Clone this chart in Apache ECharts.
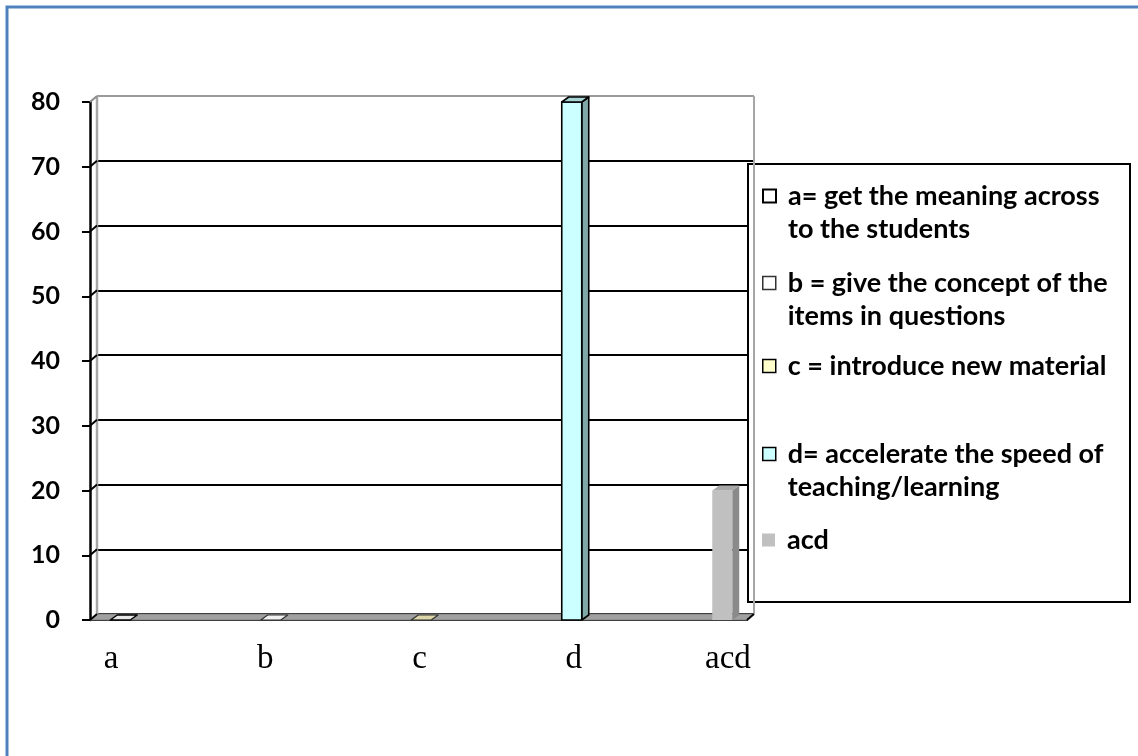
<!DOCTYPE html>
<html>
<head>
<meta charset="utf-8">
<script src="https://cdn.jsdelivr.net/npm/echarts@6/dist/echarts.min.js"></script>
<style>
  html, body { margin: 0; padding: 0; background: #ffffff; }
  #chart { width: 1138px; height: 756px; }
</style>
</head>
<body>
<div id="chart"></div>
<script>
// Categories, values and legend texts
const categories = ['a', 'b', 'c', 'd', 'acd'];
const values = [0, 0, 0, 80, 20];
const seriesNames = [
  'a= get the meaning across\nto the students',
  'b = give the concept of the\nitems in questions',
  'c = introduce new material',
  'd= accelerate the speed of\nteaching/learning',
  'acd'
];
const yTicks = [0, 10, 20, 30, 40, 50, 60, 70, 80];

// Face colours of each 3D column (front / side / top / outline)
const barStyles = [
  { front: '#ffffff', side: '#d0d0d0', top: '#e8e8e8', stroke: '#000000', lw: 1.5 },
  { front: '#ffffff', side: '#d0d0d0', top: '#f0f0f0', stroke: '#333333', lw: 1.2 },
  { front: '#ffffcc', side: '#b8b890', top: '#ddd6a8', stroke: '#333333', lw: 1.2 },
  { front: '#ccffff', side: '#80a8a8', top: '#a6d4d4', stroke: '#000000', lw: 1.6 },
  { front: '#c0c0c0', side: '#8a8a8a', top: '#a8a8a8', stroke: null, lw: 0 }
];
const legendIconStyles = [
  { color: '#ffffff', borderColor: '#000000', borderWidth: 2 },
  { color: '#ffffff', borderColor: '#333333', borderWidth: 1.5 },
  { color: '#ffffcc', borderColor: '#000000', borderWidth: 1.5 },
  { color: '#ccffff', borderColor: '#000000', borderWidth: 1.5 },
  { color: '#c0c0c0', borderWidth: 0 }
];
const legendCenters = [196, 283, 366, 454, 540];
const LEGEND_LH = 33;

// depth offset of the 3D walls and columns
const DX = 7, DY = -6;

function columnRenderer(st) {
  return function (params, api) {
    const i = api.value(0), v = api.value(1);
    const top = api.coord([i, v]);
    const base = api.coord([i, 0]);
    const hw = 10;
    const l = top[0] - hw, r = top[0] + hw;
    const lineStyle = st.stroke ? { stroke: st.stroke, lineWidth: st.lw, lineJoin: 'round' } : {};
    const children = [];
    if (base[1] - top[1] > 0.5) {
      children.push({
        type: 'polygon',
        shape: { points: [[r, top[1]], [r + DX, top[1] + DY + 1], [r + DX, base[1] + DY + 1], [r, base[1]]] },
        style: Object.assign({ fill: st.side }, lineStyle)
      });
      children.push({
        type: 'rect',
        shape: { x: l, y: top[1], width: 2 * hw, height: base[1] - top[1] },
        style: Object.assign({ fill: st.front }, lineStyle)
      });
    }
    children.push({
      type: 'polygon',
      shape: { points: [[l, top[1]], [l + DX, top[1] + DY + 1], [r + DX, top[1] + DY + 1], [r, top[1]]] },
      style: Object.assign({ fill: st.top }, lineStyle)
    });
    return { type: 'group', children };
  };
}

// walls, floor and the short links from each tick to its back grid line
function frameRenderer(params, api) {
  const cs = params.coordSys;
  const x0 = cs.x, y0 = cs.y, w = cs.width, h = cs.height;
  const yb = y0 + h;
  const children = [];
  children.push({
    type: 'polygon',
    shape: { points: [[x0, yb], [x0 + w, yb], [x0 + w + DX, yb + DY], [x0 + DX, yb + DY]] },
    style: { fill: '#a0a0a0', stroke: '#808080', lineWidth: 1 }
  });
  children.push({
    type: 'line',
    shape: { x1: x0 + DX, y1: y0 + DY, x2: x0 + DX, y2: yb + DY },
    style: { stroke: '#a6a6a6', lineWidth: 2.5 }
  });
  children.push({
    type: 'line',
    shape: { x1: x0 + w + DX, y1: y0 + DY, x2: x0 + w + DX, y2: yb + DY },
    style: { stroke: '#a6a6a6', lineWidth: 2 }
  });
  yTicks.forEach(function (t, k) {
    const p = api.coord([0, t]);
    children.push({
      type: 'line',
      shape: { x1: p[0], y1: p[1], x2: p[0] + DX, y2: p[1] + DY },
      style: { stroke: k === yTicks.length - 1 ? '#8c8c8c' : '#000000', lineWidth: 2 }
    });
  });
  children.push({
    type: 'line',
    shape: { x1: x0 + w, y1: yb, x2: x0 + w + DX, y2: yb + DY },
    style: { stroke: '#000000', lineWidth: 2 }
  });
  return { type: 'group', children };
}

const chart = echarts.init(document.getElementById('chart'), null, { renderer: 'canvas' });

const gridLineColors = yTicks.map(function (t, k) { return k === yTicks.length - 1 ? '#9a9a9a' : '#000000'; });

// a blank first line keeps the marker level with the first text line of two-line entries
function legendText(name) {
  return name.indexOf('\n') >= 0 ? ' \n' + name : name;
}

const option = {
  backgroundColor: '#ffffff',
  animation: false,
  grid: [
    { left: 90, top: 102, width: 657, height: 518 },           // front plane (value axis)
    { left: 90 + DX, top: 102 + DY, width: 657, height: 518 }, // back wall (grid lines)
    { left: 45, top: 102, width: 752.5, height: 518 },         // columns
    { left: 34, top: 102, width: 771, height: 518 }            // category labels
  ],
  xAxis: [
    { gridIndex: 0, type: 'value', min: 0, max: 1, show: true,
      axisLine: { show: true, lineStyle: { color: '#000', width: 2 } },
      axisTick: { show: false }, axisLabel: { show: false }, splitLine: { show: false } },
    { gridIndex: 1, type: 'value', min: 0, max: 1, show: false },
    { gridIndex: 2, type: 'category', data: categories, show: false },
    { gridIndex: 3, type: 'category', data: categories,
      axisLine: { show: false }, axisTick: { show: false }, splitLine: { show: false },
      axisLabel: { color: '#000', fontFamily: 'Liberation Serif', fontSize: 33, margin: 23 } }
  ],
  yAxis: [
    { gridIndex: 0, type: 'value', min: 0, max: 80, interval: 10,
      axisLine: { show: true, lineStyle: { color: '#000', width: 2.5 } },
      axisTick: { show: true, inside: false, length: 8, lineStyle: { color: '#000', width: 2 } },
      axisLabel: { color: '#000', fontFamily: 'Lato', fontWeight: 'bold', fontSize: 25, margin: 30 },
      splitLine: { show: false } },
    { gridIndex: 1, type: 'value', min: 0, max: 80, interval: 10,
      axisLine: { show: false }, axisTick: { show: false }, axisLabel: { show: false },
      splitLine: { show: true, lineStyle: { color: gridLineColors, width: 2 } } },
    { gridIndex: 2, type: 'value', min: 0, max: 80, interval: 10, show: false },
    { gridIndex: 3, type: 'value', min: 0, max: 80, interval: 10, show: false }
  ],
  graphic: [
    { type: 'rect', z: 0, silent: true,
      shape: { x: 7, y: 7, width: 1300, height: 900 },
      style: { fill: null, stroke: '#4f81bd', lineWidth: 3 } },
    { type: 'rect', z: 2, silent: true,
      shape: { x: 748, y: 164, width: 382, height: 438 },
      style: { fill: '#ffffff', stroke: '#000000', lineWidth: 2 } }
  ],
  legend: seriesNames.map(function (name, k) {
    const twoLine = name.indexOf('\n') >= 0;
    return {
      show: true, z: 6, left: 762,
      top: legendCenters[k] - (twoLine ? 1.5 : 0.5) * LEGEND_LH,
      padding: 0,
      itemWidth: 13, itemHeight: 13, itemGap: 0, selectedMode: false,
      formatter: legendText,
      data: [{ name: name, icon: 'rect', itemStyle: legendIconStyles[k] }],
      textStyle: {
        color: '#000', fontFamily: 'Lato', fontWeight: 'bold', fontSize: 27,
        lineHeight: LEGEND_LH, padding: [0, 0, 0, 7]
      }
    };
  }),
  series: [
    { type: 'custom', name: 'frame', xAxisIndex: 0, yAxisIndex: 0, z: 3, silent: true,
      data: [[0, 0]], renderItem: frameRenderer }
  ].concat(seriesNames.map(function (name, k) {
    return {
      type: 'custom', name: name, xAxisIndex: 2, yAxisIndex: 2, z: 4, silent: true,
      itemStyle: { color: barStyles[k].front },
      encode: { x: 0, y: 1 },
      data: [[k, values[k]]],
      renderItem: columnRenderer(barStyles[k])
    };
  }))
};

chart.setOption(option);
</script>
</body>
</html>
